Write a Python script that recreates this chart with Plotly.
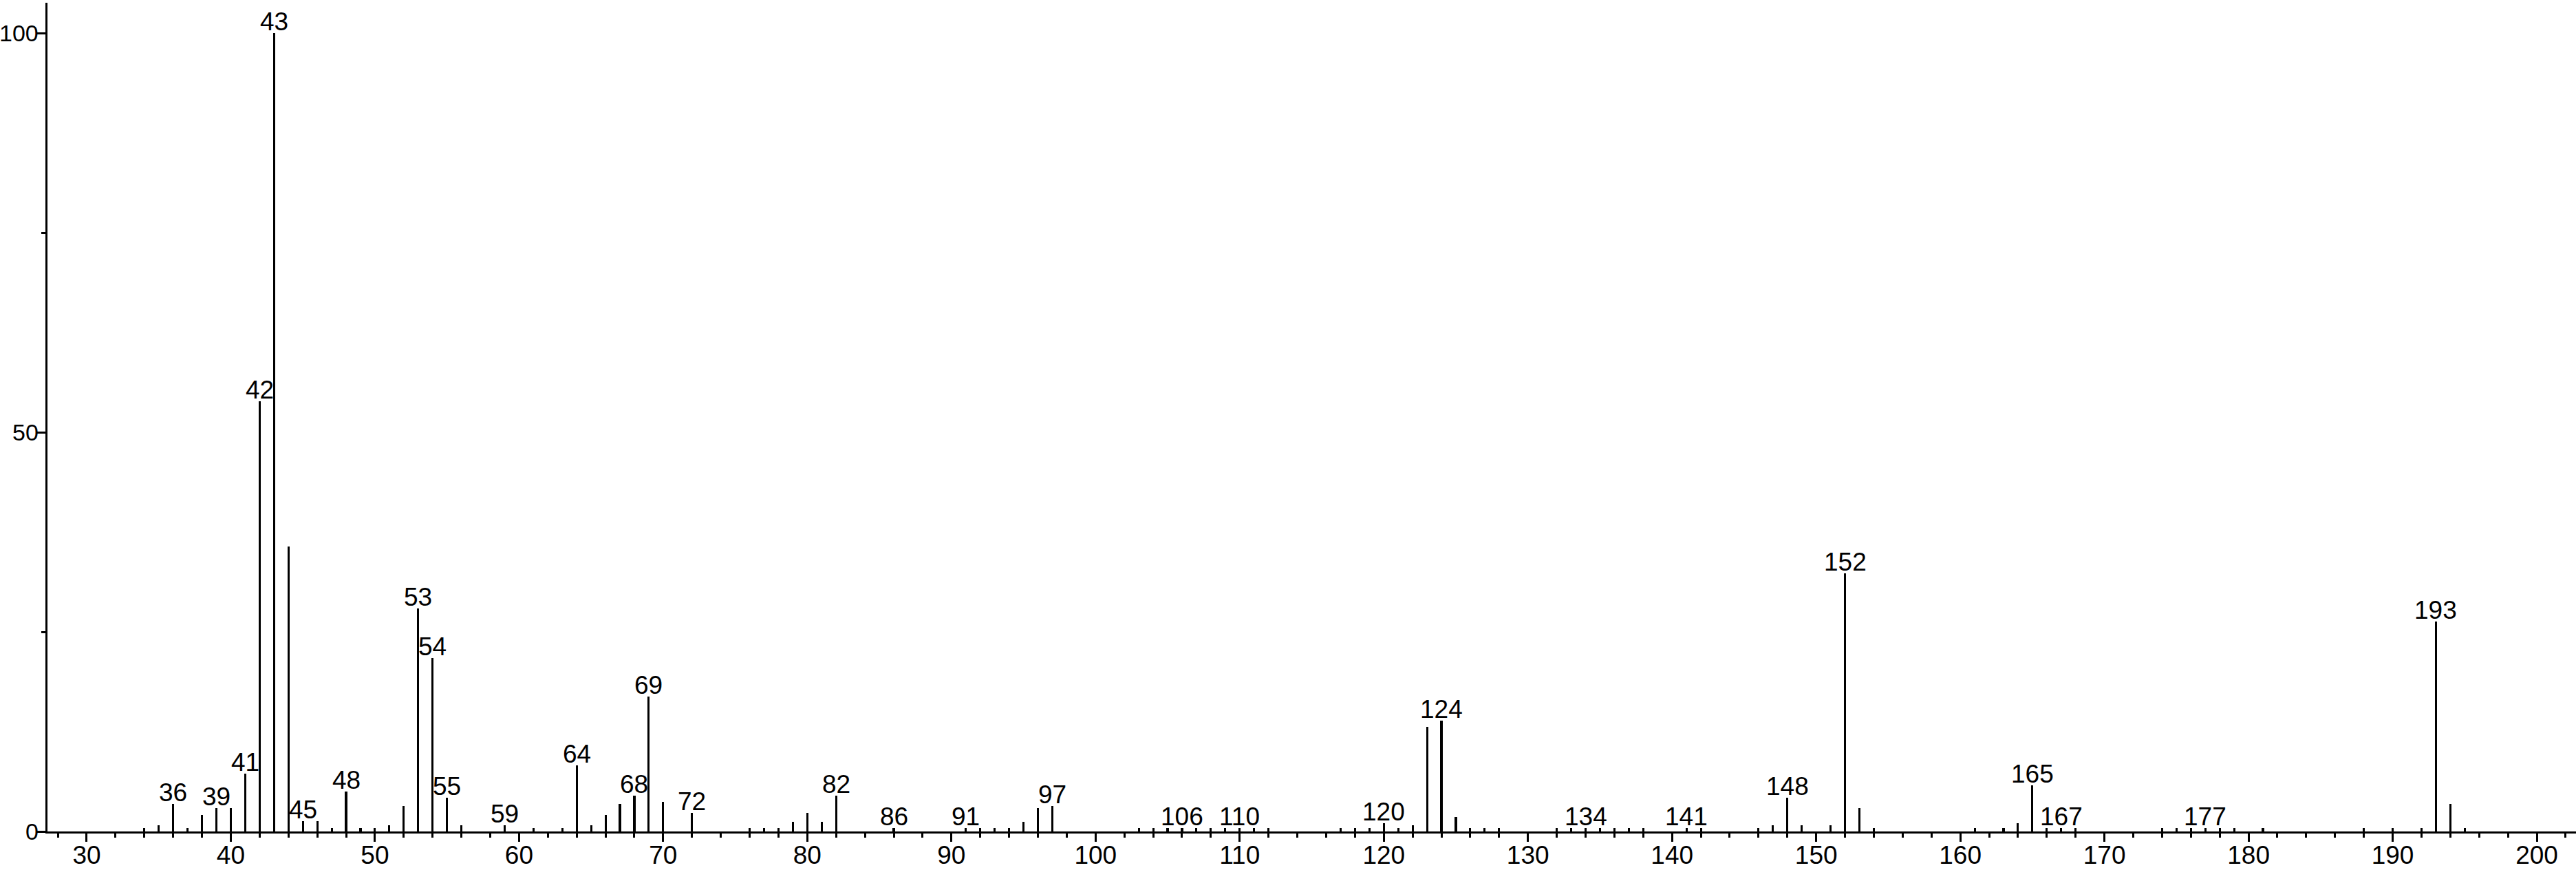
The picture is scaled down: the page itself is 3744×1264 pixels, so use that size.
import plotly.graph_objects as go

# m/z values and relative intensities (%)
mz = [34, 35, 36, 37, 38, 39, 40, 41, 42, 43, 44, 45, 46, 47, 48, 49, 50, 51, 52, 53,
      54, 55, 56, 59, 61, 63, 64, 65, 66, 67, 68, 69, 70, 72, 76, 77, 78, 79, 80, 81,
      82, 86, 91, 92, 93, 94, 95, 96, 97, 103, 104, 105, 106, 107, 108, 109, 110, 111, 112, 117,
      118, 119, 120, 121, 122, 123, 124, 125, 126, 127, 128, 132, 133, 134, 135, 136, 137, 138, 141, 142,
      146, 147, 148, 149, 151, 152, 153, 154, 161, 163, 164, 165, 166, 167, 168, 174, 175, 176, 177, 178,
      179, 181, 188, 190, 192, 193, 194, 195]
intensity = [0.45, 0.75, 3.45, 0.45, 2.1, 2.9, 2.9, 7.2, 53.9, 100, 35.7, 1.3, 1.3, 0.45, 5.0, 0.45, 0.4, 0.75, 3.2, 27.9,
             21.7, 4.25, 0.75, 0.75, 0.45, 0.45, 8.3, 0.75, 2.1, 3.45, 4.5, 16.9, 3.7, 2.35, 0.45, 0.45, 0.45, 1.25, 2.35, 1.25,
             4.5, 0.45, 0.45, 0.45, 0.45, 0.45, 1.25, 2.9, 3.2, 0.45, 0.45, 0.45, 0.45, 0.45, 0.45, 0.45, 0.45, 0.45, 0.45, 0.45,
             0.45, 0.45, 1.0, 0.45, 0.75, 13.1, 13.9, 1.8, 0.45, 0.45, 0.45, 0.45, 0.45, 0.45, 0.45, 0.45, 0.45, 0.45, 0.45, 0.45,
             0.45, 0.75, 4.25, 0.75, 0.75, 32.3, 2.9, 0.45, 0.45, 0.45, 1.0, 5.8, 0.45, 0.45, 0.45, 0.45, 0.45, 0.45, 0.45, 0.45,
             0.45, 0.45, 0.45, 0.45, 0.45, 26.3, 3.45, 0.45]

# peaks carrying an m/z label
labeled_mz = [36, 39, 41, 42, 43, 45, 48, 53, 54, 55, 59, 64, 68, 69, 72, 82, 86, 91, 97,
              106, 110, 120, 124, 134, 141, 148, 152, 165, 167, 177, 193]

x_tickvals = [30, 40, 50, 60, 70, 80, 90, 100, 110, 120, 130, 140, 150, 160, 170, 180, 190, 200]
y_tickvals = [0, 50, 100]

FONT = "Liberation Sans, Arial, sans-serif"
FS = 37
FS_Y = 34

fig = go.Figure()
fig.add_trace(go.Bar(
    x=mz, y=intensity, width=0.15,
    marker=dict(color="black", line=dict(width=0)),
    hoverinfo="x+y", showlegend=False,
))

lookup = dict(zip(mz, intensity))
for m in labeled_mz:
    fig.add_annotation(
        x=m, y=lookup[m], text=str(m), showarrow=False,
        yanchor="bottom", xanchor="center", yshift=-6,
        font=dict(family=FONT, size=FS, color="black"),
    )

# y tick labels placed just left of the tick marks
for v in y_tickvals:
    fig.add_annotation(
        xref="paper", x=0, yref="y", y=v, text=str(v), showarrow=False,
        xanchor="right", yanchor="middle", xshift=-12, borderpad=0,
        font=dict(family=FONT, size=FS_Y, color="black"),
    )

fig.update_layout(
    width=3744, height=1264,
    margin=dict(l=69, r=0, t=4, b=56),
    paper_bgcolor="white", plot_bgcolor="white",
    bargap=0,
    xaxis=dict(
        range=[27.28, 202.72], showgrid=False, zeroline=False, automargin=False,
        showline=True, linecolor="black", linewidth=3,
        tickmode="array", tickvals=x_tickvals,
        ticks="outside", ticklen=12, tickwidth=3, tickcolor="black",
        tickfont=dict(family=FONT, size=FS, color="black"),
        ticklabelstandoff=-12,
        minor=dict(dtick=2, tick0=0, ticks="outside", ticklen=6, tickwidth=3, tickcolor="black", showgrid=False),
    ),
    yaxis=dict(
        range=[0, 103.8], showgrid=False, zeroline=False, automargin=False,
        showline=True, linecolor="black", linewidth=3,
        tickmode="array", tickvals=y_tickvals, showticklabels=False,
        ticks="outside", ticklen=12, tickwidth=3, tickcolor="black",
        minor=dict(dtick=25, tick0=0, ticks="outside", ticklen=6, tickwidth=3, tickcolor="black", showgrid=False),
    ),
)

fig.write_html(
    "out.html",
    config={"displayModeBar": False},
    post_script="document.body.style.margin='0px';document.body.style.overflow='hidden';",
)
